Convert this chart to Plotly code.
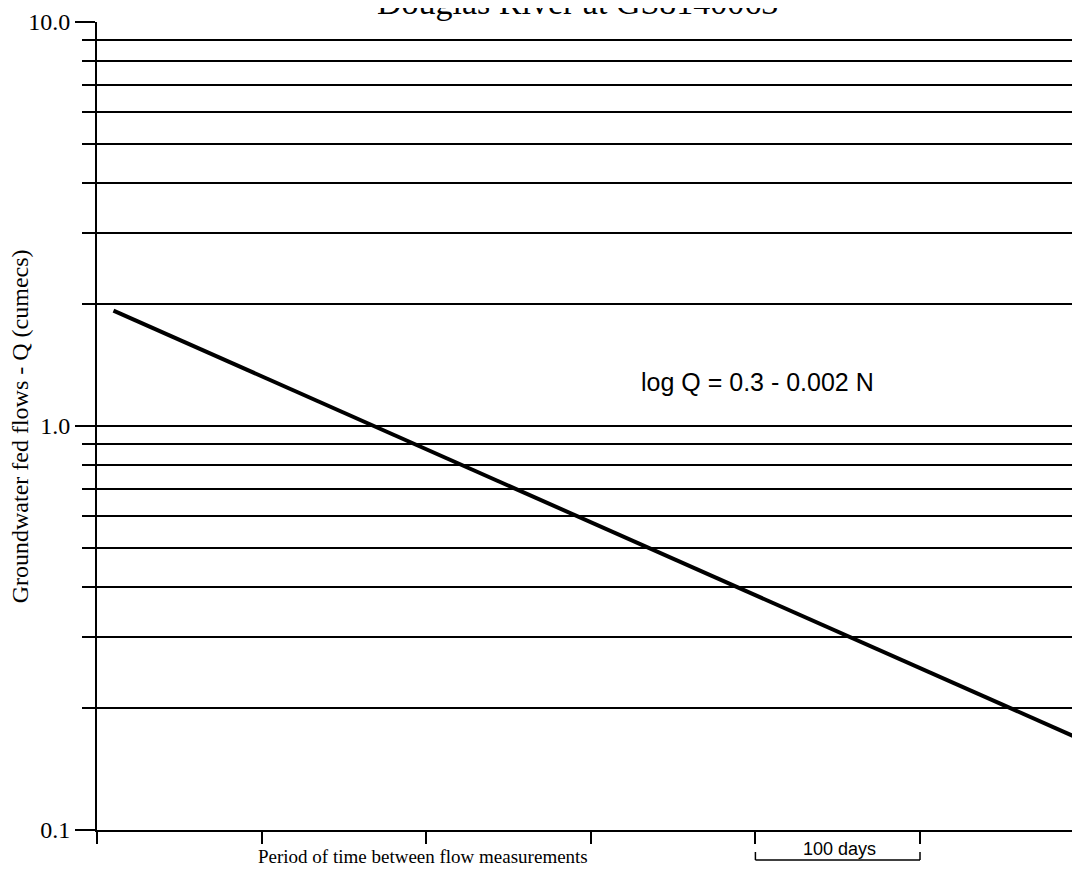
import plotly.graph_objects as go

# recession line (days, cumecs)
days = [10, 600]
flow = [1.93, 0.166]

major_q = [0.1, 1, 10]
major_lab = ["0.1", "1.0", "10.0"]
minor_q = [0.2, 0.3, 0.4, 0.5, 0.6, 0.7, 0.8, 0.9, 2, 3, 4, 5, 6, 7, 8, 9]
day_ticks = [0, 100, 200, 300, 400, 500]
scale_bar = [400, 500]

serif = "Liberation Serif, Times New Roman, serif"
sans = "Liberation Sans, Arial, sans-serif"

fig = go.Figure()
fig.add_trace(go.Scatter(x=days, y=flow, mode="lines",
                         line=dict(color="black", width=4), showlegend=False))

# page body has an 8px margin, so the figure is 8px smaller and shifted
fig.update_layout(
    width=1072, height=863,
    margin=dict(l=89, r=0, t=14, b=41),
    plot_bgcolor="white", paper_bgcolor="white",
    showlegend=False,
)
fig.update_xaxes(
    range=[0, 597.2], showgrid=False, zeroline=False,
    showline=True, linecolor="black", linewidth=2,
    tickvals=day_ticks, showticklabels=False,
    ticks="outside", ticklen=12, tickwidth=1.5, tickcolor="black",
)
fig.update_yaxes(
    type="log", range=[-1, 1], zeroline=False,
    showline=True, linecolor="black", linewidth=2,
    tickvals=major_q, ticktext=major_lab,
    ticks="outside", ticklen=20, tickwidth=1.5, tickcolor="black",
    tickfont=dict(family=serif, size=24, color="black"),
    showgrid=True, gridcolor="black", gridwidth=1.6,
    minor=dict(tickvals=minor_q, ticks="outside", ticklen=13, tickwidth=1.5,
               tickcolor="black", showgrid=True, gridcolor="black", gridwidth=1.6),
)

# equation label
fig.add_annotation(x=401, y=0.109, xref="x", yref="y", showarrow=False,
                   text="log Q = 0.3 - 0.002 N",
                   font=dict(family=sans, size=25, color="black"))

# title (cut off at top of the image, as in the original)
fig.add_annotation(x=0.489, y=1, xref="paper", yref="paper",
                   xanchor="center", yanchor="bottom", yshift=-1,
                   showarrow=False, text="Douglas River at GS8140063",
                   font=dict(family=serif, size=34, color="black"))

fig.add_annotation(x=-0.078, y=0.5, xref="paper", yref="paper",
                   xanchor="center", yanchor="middle", textangle=-90,
                   showarrow=False, text="Groundwater fed flows - Q (cumecs)",
                   font=dict(family=serif, size=24, color="black"))
fig.add_annotation(x=0.332, y=-0.033, xref="paper", yref="paper",
                   xanchor="center", yanchor="middle",
                   showarrow=False, text="Period of time between flow measurements",
                   font=dict(family=serif, size=19, color="black"))

# 100 days scale bar
fig.add_shape(type="line", xref="x", yref="paper", x0=scale_bar[0], x1=scale_bar[1],
              y0=-0.0371, y1=-0.0371, line=dict(color="black", width=1.5))
for d in scale_bar:
    fig.add_shape(type="line", xref="x", yref="paper", x0=d, x1=d,
                  y0=-0.0371, y1=-0.0272, line=dict(color="black", width=1.5))
fig.add_annotation(x=451, y=-0.0235, xref="x", yref="paper",
                   xanchor="center", yanchor="middle",
                   showarrow=False, text="100 days",
                   font=dict(family=sans, size=18, color="black"))

fig.write_html("out.html")
